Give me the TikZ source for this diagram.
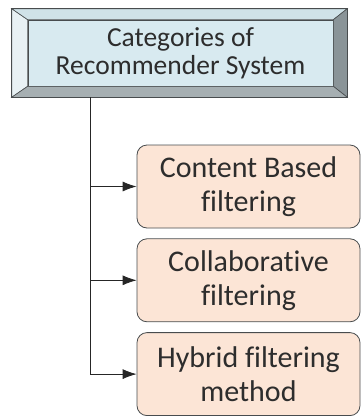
\documentclass[tikz,border=0pt]{standalone}
\usepackage{fontspec}
\setmainfont{Carlito}[Ligatures={NoCommon}]
\usetikzlibrary{positioning}
\usetikzlibrary{calc}
\usetikzlibrary{arrows.meta}
\definecolor{catblue}{RGB}{216,234,240}
\definecolor{bevlight}{RGB}{232,241,244}
\definecolor{bevtop}{RGB}{208,226,232}
\definecolor{bevright}{RGB}{138,148,152}
\definecolor{bevbottom}{RGB}{166,175,178}
\definecolor{edgegray}{RGB}{72,76,78}
\definecolor{peach}{RGB}{252,229,214}
\definecolor{textgray}{RGB}{45,45,45}
\tikzset{node distance=10pt, % gap between the category boxes
catbox/.style={ % inner face of the bevelled title box
fill=catblue, draw=edgegray, semithick,
minimum width=305pt, minimum height=66pt,
text=textgray, align=center,
font=\fontsize{27.5}{28}\selectfont},
subbox/.style={ % one filtering category
draw=edgegray, fill=peach, thick, rounded corners=10pt,
minimum width=223pt, minimum height=83pt,
text=textgray, align=center,
font=\fontsize{30}{34}\selectfont},
link/.style={ % connectors from the trunk
draw=black!85, thick,
-{Latex[length=14pt,width=10pt]}}}

\begin{document}
\begin{tikzpicture}[x=1pt,y=1pt]
                \useasboundingbox (0,0) rectangle (363,-416);
                \node[catbox] (cat) at (180.5,-53) {Categories of\\Recommender System};
                % bevel round the title box
                \coordinate (ow) at ($(cat.north west)+(-16,11)$);
                \coordinate (oe) at ($(cat.north east)+(14,11)$);
                \coordinate (sw) at ($(cat.south west)+(-16,-11)$);
                \coordinate (se) at ($(cat.south east)+(14,-11)$);
                \filldraw[fill=bevlight, draw=edgegray, semithick] (ow) -- (cat.north west) -- (cat.south west) -- (sw) -- cycle;
                \filldraw[fill=bevtop, draw=edgegray, semithick] (ow) -- (oe) -- (cat.north east) -- (cat.north west) -- cycle;
                \filldraw[fill=bevright, draw=edgegray, semithick] (oe) -- (se) -- (cat.south east) -- (cat.north east) -- cycle;
                \filldraw[fill=bevbottom, draw=edgegray, semithick] (sw) -- (cat.south west) -- (cat.south east) -- (se) -- cycle;
                \draw[edgegray, thick] (ow) rectangle (se);

                \node[subbox] (cbf) at (248.5,-186.5) {Content Based\\filtering};
                \node[subbox, below = of cbf] (cf) {Collaborative\\filtering};
                \node[subbox, below = of cf] (hyb) {Hybrid filtering\\method};

                \coordinate (trunk) at (90,-97);
                \draw[link] (trunk) |- (hyb.west);
                \draw[link] (trunk |- cbf.west) -- (cbf.west);
                \draw[link] (trunk |- cf.west) -- (cf.west);
            \end{tikzpicture}
\end{document}
